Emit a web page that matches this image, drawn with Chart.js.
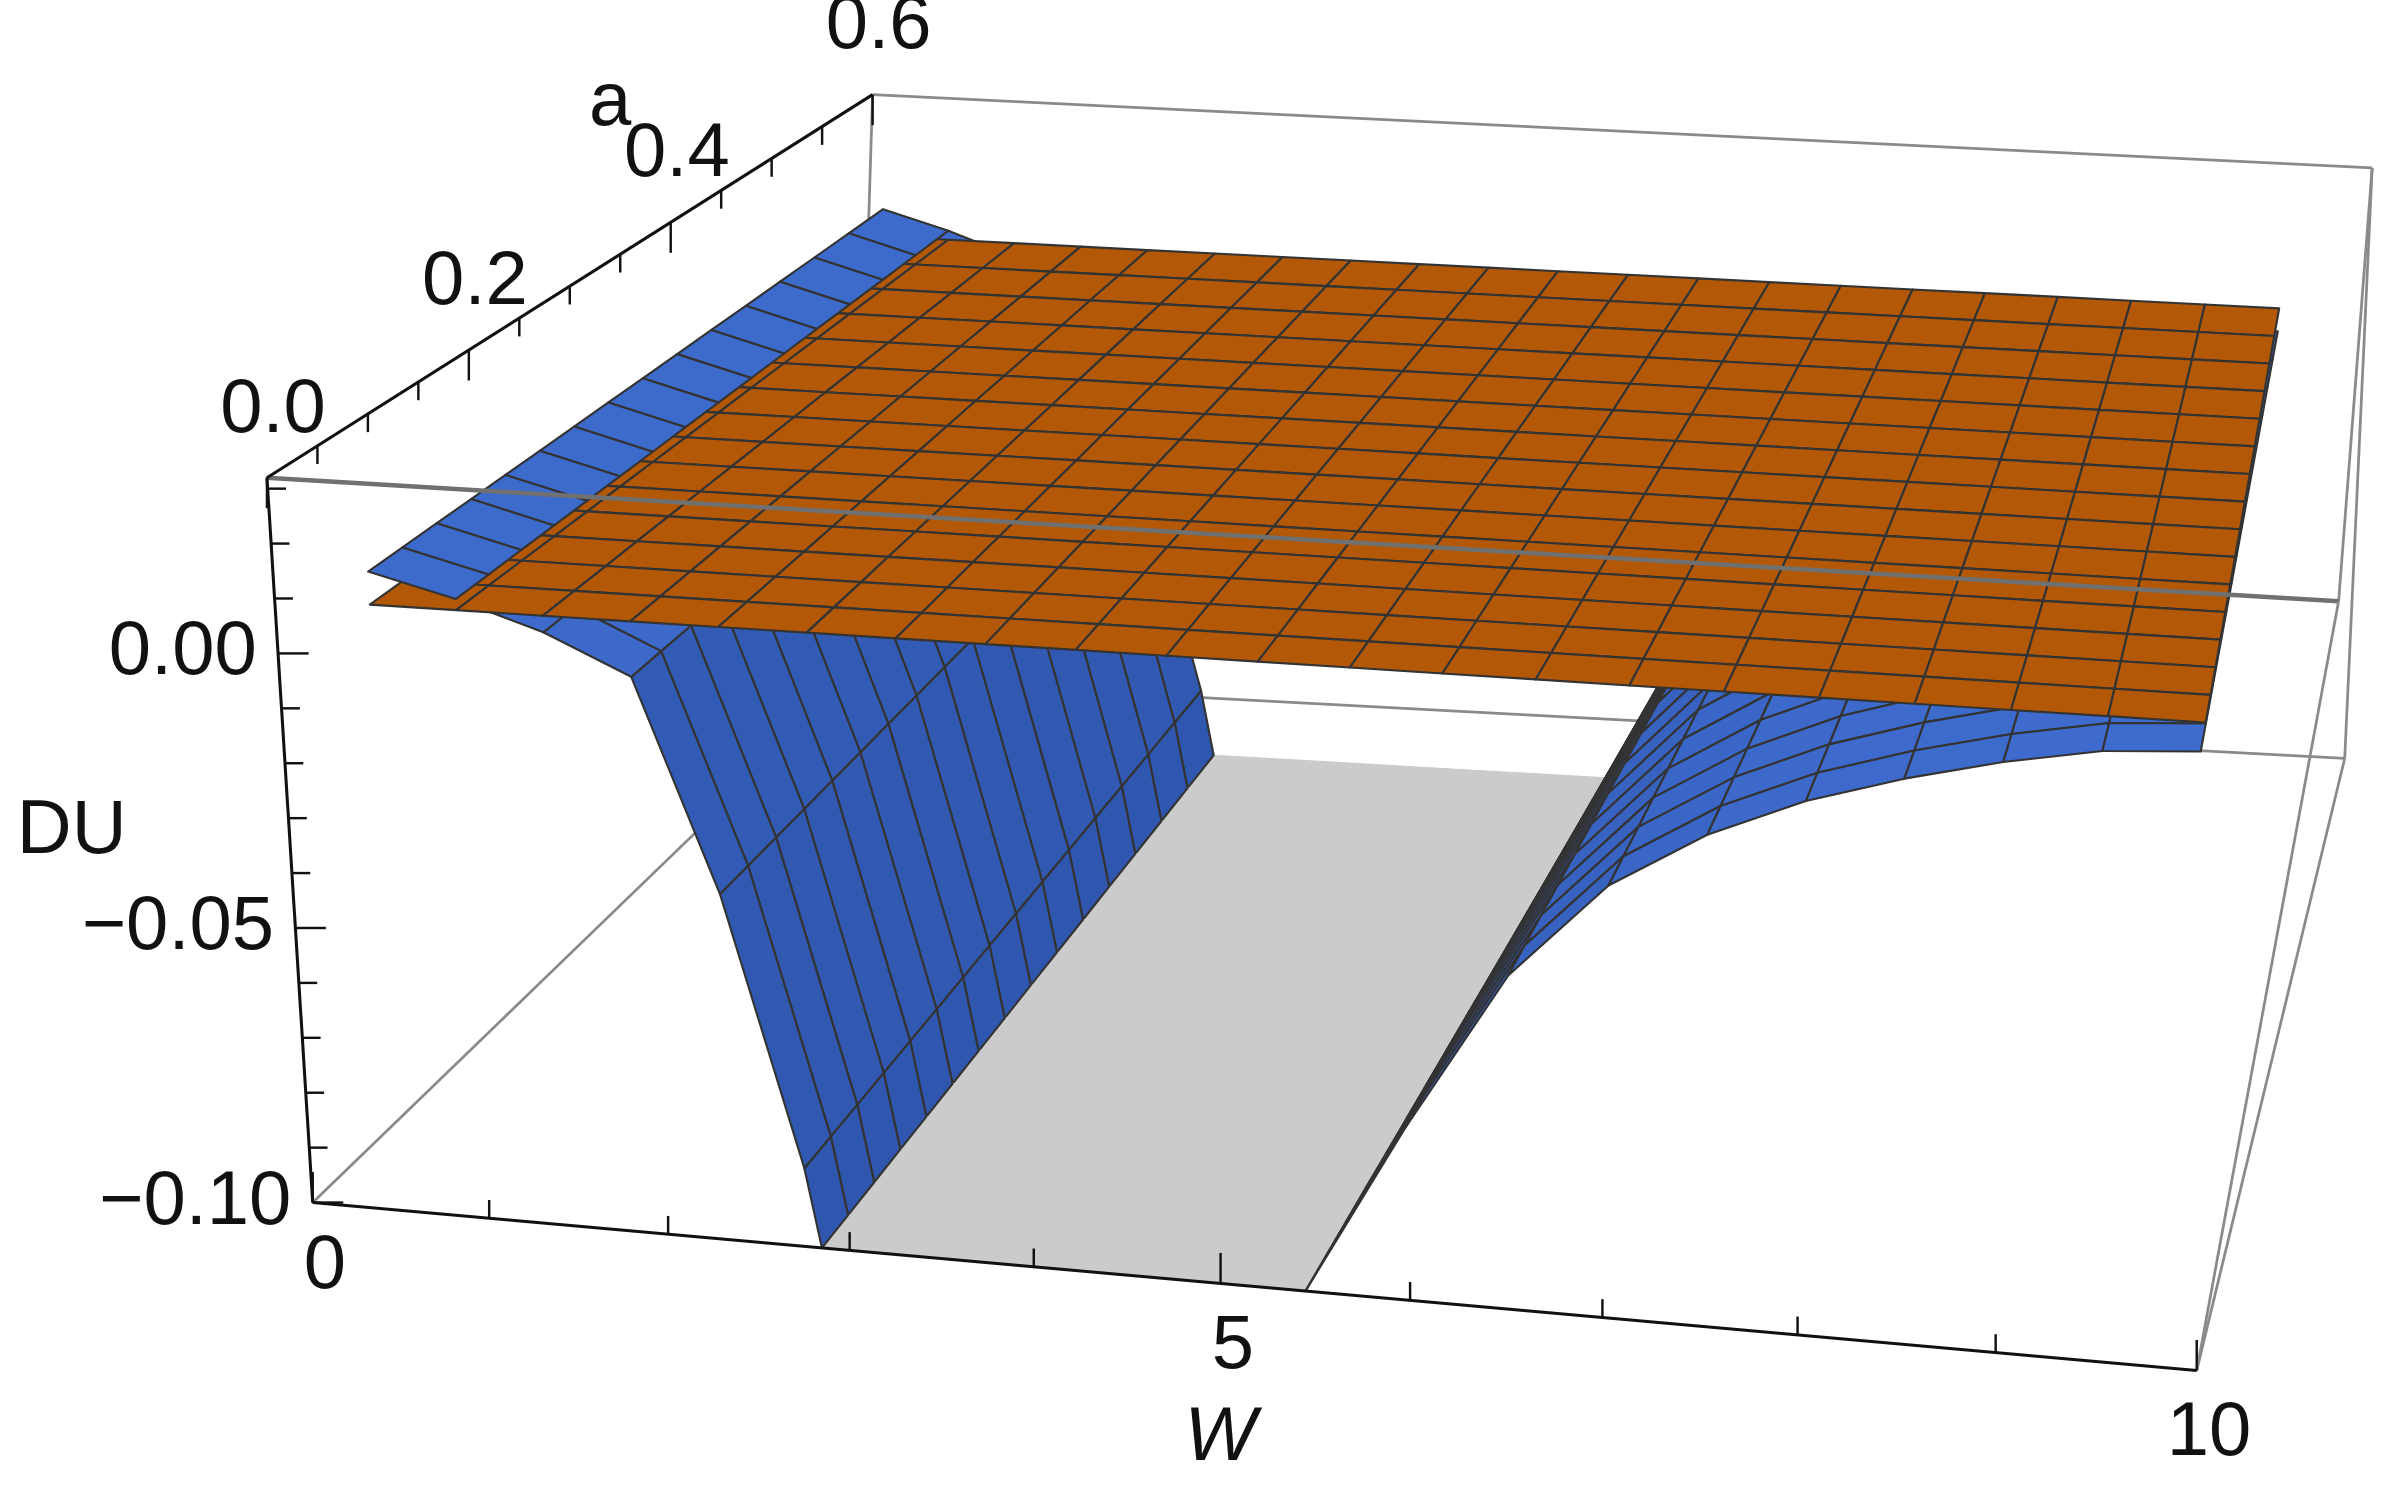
<!DOCTYPE html>
<html>
<head>
<meta charset="utf-8">
<script src="https://cdn.jsdelivr.net/npm/chart.js@4.4.0/dist/chart.umd.min.js"></script>
<style>
  body { margin: 0; background: #fff; }
  #wrap { width: 2392px; height: 1491px; }
</style>
</head>
<body>
<div id="wrap"><canvas id="grafico"></canvas></div>
<script>
// grid of the two surfaces
const gridW = [0.5, 0.95, 1.4, 1.85, 2.3, 2.75, 3.2, 3.65, 4.1, 4.55, 5.0, 5.45, 5.9, 6.35, 6.8, 7.25, 7.7, 8.15, 8.6, 9.05, 9.5];
const gridA = [0, 0.036, 0.072, 0.108, 0.144, 0.18, 0.216, 0.252, 0.288, 0.324, 0.36, 0.396, 0.432, 0.468, 0.504, 0.54];
// blue surface DU along W (nodes below -0.10 are clipped)
const blueDU = [0.016, 0.012, 0.007, 0.0, -0.038, -0.086, -0.15, -0.15, -0.15, -0.15, -0.15, -0.1, -0.07, -0.042, -0.025, -0.015, -0.008, -0.003, 0.001, 0.004, 0.005];
// orange plane
const orangeDU = 0.01;

// axes
const duRange = [-0.1, 0.032];
const duTicks = [-0.1, -0.05, 0];
const duLabels = ["\u22120.10", "\u22120.05", "0.00"];
const duMinor = [-0.09, -0.08, -0.07, -0.06, -0.04, -0.03, -0.02, -0.01, 0.01, 0.02, 0.03];
const wTicks = [0, 5, 10];
const wLabels = ["0", "5", "10"];
const wMinor = [1, 2, 3, 4, 6, 7, 8, 9];
const aTicks = [0, 0.2, 0.4, 0.6];
const aLabels = ["0.0", "0.2", "0.4", "0.6"];
const aMinor = [0.05, 0.1, 0.15, 0.25, 0.3, 0.35, 0.45, 0.5, 0.55];

// box corners on the page (front/back, bottom/top, left/right)
const BOX = {
    FBL: [205, 788], FBR: [1440, 898], FTL: [175, 313], FTR: [1533, 394],
    BBL: [560, 445], BBR: [1537, 497], BTL: [572, 62], BTR: [1555, 110]
};
const VIEW_W = 1568, VIEW_H = 977;
const PERSP = -0.07;

function mix(p, q, s) { return [p[0] + (q[0] - p[0]) * s, p[1] + (q[1] - p[1]) * s]; }

function proj(W, a, du) {
    const u0 = W / 10;
    const u = u0 * (1 + PERSP) / (1 + PERSP * u0);
    const v = a / 0.6, t = (du - duRange[0]) / (duRange[1] - duRange[0]);
    const fb = mix(BOX.FBL, BOX.FBR, u), ft = mix(BOX.FTL, BOX.FTR, u);
    const bb = mix(BOX.BBL, BOX.BBR, u), bt = mix(BOX.BTL, BOX.BTR, u);
    return mix(mix(fb, ft, t), mix(bb, bt, t), v);
}

function clipDU(poly, keepAbove) {
    const lim = duRange[0];
    const inside = p => keepAbove ? p[2] >= lim : p[2] <= lim;
    const out = [];
    for (let i = 0; i < poly.length; i++) {
        const p = poly[i], q = poly[(i + 1) % poly.length];
        if (inside(p)) out.push(p);
        if (inside(p) !== inside(q)) {
            const s = (lim - p[2]) / (q[2] - p[2]);
            out.push([p[0] + (q[0] - p[0]) * s, p[1] + (q[1] - p[1]) * s, lim]);
        }
    }
    return out;
}

function construirFaces() {
    const baixo = [], cima = [], laranja = [];
    for (let j = gridA.length - 2; j >= 0; j--) {
        for (let i = 0; i < gridW.length - 1; i++) {
            const quad = [
                [gridW[i], gridA[j], blueDU[i]], [gridW[i + 1], gridA[j], blueDU[i + 1]],
                [gridW[i + 1], gridA[j + 1], blueDU[i + 1]], [gridW[i], gridA[j + 1], blueDU[i]]
            ];
            const slope = Math.abs(blueDU[i + 1] - blueDU[i]) / (gridW[i + 1] - gridW[i]) / 0.03;
            const luz = 1 / Math.sqrt(1 + slope * slope);
            const cor = `rgb(${Math.round(44 + 18 * luz)},${Math.round(82 + 26 * luz)},${Math.round(168 + 38 * luz)})`;
            const acima = clipDU(quad, true);
            const abaixo = clipDU(quad, false).map(p => [p[0], p[1], duRange[0]]);
            const mediaDU = (blueDU[i] + blueDU[i + 1]) / 2;
            if (abaixo.length > 2) baixo.push({ pts: abaixo, fill: "#cbcbcb", stroke: null, a: gridA[j], du: duRange[0] - 1 });
            if (acima.length > 2) {
                const face = { pts: acima, fill: cor, stroke: "#333", a: gridA[j], du: mediaDU };
                (mediaDU > orangeDU ? cima : baixo).push(face);
            }
            laranja.push({
                pts: [[gridW[i], gridA[j], orangeDU], [gridW[i + 1], gridA[j], orangeDU],
                      [gridW[i + 1], gridA[j + 1], orangeDU], [gridW[i], gridA[j + 1], orangeDU]],
                fill: "#b35806", stroke: "#333", a: gridA[j], du: orangeDU
            });
        }
    }
    const ordem = (p, q) => (q.a - p.a) || (p.du - q.du);
    baixo.sort(ordem);
    cima.sort(ordem);
    return baixo.concat(laranja, cima);
}

const superficie3d = {
    id: "superficie3d",
    afterDatasetsDraw(chart) {
        const ctx = chart.ctx, sx = chart.scales.x, sy = chart.scales.y;
        const k = chart.width / VIEW_W;
        const px = p => [sx.getPixelForValue(p[0]), sy.getPixelForValue(p[1])];
        const P = (W, a, du) => px(proj(W, a, du));
        const linha = (p, q, cor, larg) => {
            ctx.beginPath(); ctx.moveTo(...px(p)); ctx.lineTo(...px(q));
            ctx.strokeStyle = cor; ctx.lineWidth = larg * k; ctx.stroke();
        };
        ctx.save();
        ctx.lineJoin = "round";

        // back edges of the box
        const cinza = "#8a8a8a";
        [["BTL", "BTR"], ["BTR", "BBR"], ["BBR", "BBL"], ["BBL", "BTL"], ["FBL", "BBL"], ["FBR", "BBR"], ["FTR", "BTR"]]
            .forEach(([p, q]) => linha(BOX[p], BOX[q], cinza, 1.8));

        // surfaces
        construirFaces().forEach(f => {
            ctx.beginPath();
            f.pts.forEach((p, n) => { const c = P(p[0], p[1], p[2]); n ? ctx.lineTo(...c) : ctx.moveTo(...c); });
            ctx.closePath();
            ctx.fillStyle = f.fill; ctx.fill();
            ctx.strokeStyle = f.stroke || f.fill;
            ctx.lineWidth = (f.stroke ? 1.4 : 0.8) * k;
            ctx.stroke();
        });

        // front edges
        linha(BOX.FTL, BOX.FTR, "#707070", 3);
        linha(BOX.FTR, BOX.FBR, cinza, 1.8);
        linha(BOX.FTL, BOX.FBL, "#111", 2);
        linha(BOX.FBL, BOX.FBR, "#111", 2);
        linha(BOX.FTL, BOX.BTL, "#111", 2);

        // ticks
        const tick = (c, dx, dy, len) => {
            ctx.beginPath(); ctx.moveTo(c[0], c[1]); ctx.lineTo(c[0] + dx * len * k, c[1] + dy * len * k);
            ctx.strokeStyle = "#111"; ctx.lineWidth = 1.6 * k; ctx.stroke();
        };
        duTicks.forEach(v => tick(P(0, 0, v), 1, 0, 20));
        duMinor.forEach(v => tick(P(0, 0, v), 1, 0, 12));
        wTicks.forEach(v => tick(P(v, 0, duRange[0]), 0, -1, 20));
        wMinor.forEach(v => tick(P(v, 0, duRange[0]), 0, -1, 12));
        aTicks.forEach(v => tick(P(0, v, duRange[1]), 0, 1, 20));
        aMinor.forEach(v => tick(P(0, v, duRange[1]), 0, 1, 12));

        // labels
        ctx.fillStyle = "#111";
        ctx.font = `${Math.round(50 * k)}px "Liberation Sans", Arial, sans-serif`;
        ctx.textBaseline = "middle";
        ctx.textAlign = "right";
        duTicks.forEach((v, n) => { const c = P(0, 0, v); ctx.fillText(duLabels[n], c[0] - 14 * k, c[1]); });
        ctx.textAlign = "center";
        wTicks.forEach((v, n) => { const c = P(v, 0, duRange[0]); ctx.fillText(wLabels[n], c[0] + 8 * k, c[1] + 42 * k); });
        aTicks.forEach((v, n) => { const c = P(0, v, duRange[1]); ctx.fillText(aLabels[n], c[0] + 4 * k, c[1] - 44 * k); });
        ctx.fillText("DU", sx.getPixelForValue(47), sy.getPixelForValue(545));
        ctx.fillText("a", sx.getPixelForValue(400), sy.getPixelForValue(68));
        ctx.font = `italic ${Math.round(50 * k)}px "Liberation Sans", Arial, sans-serif`;
        ctx.fillText("W", sx.getPixelForValue(800), sy.getPixelForValue(943));
        ctx.restore();
    }
};

new Chart(document.getElementById("grafico"), {
    type: "scatter",
    data: { datasets: [{ data: [], pointRadius: 0 }] },
    options: {
        responsive: true,
        maintainAspectRatio: false,
        animation: false,
        devicePixelRatio: 1,
        layout: { padding: 0 },
        plugins: { legend: { display: false }, tooltip: { enabled: false } },
        scales: {
            x: { display: false, min: 0, max: VIEW_W },
            y: { display: false, min: 0, max: VIEW_H, reverse: true }
        }
    },
    plugins: [superficie3d]
});
</script>
</body>
</html>
